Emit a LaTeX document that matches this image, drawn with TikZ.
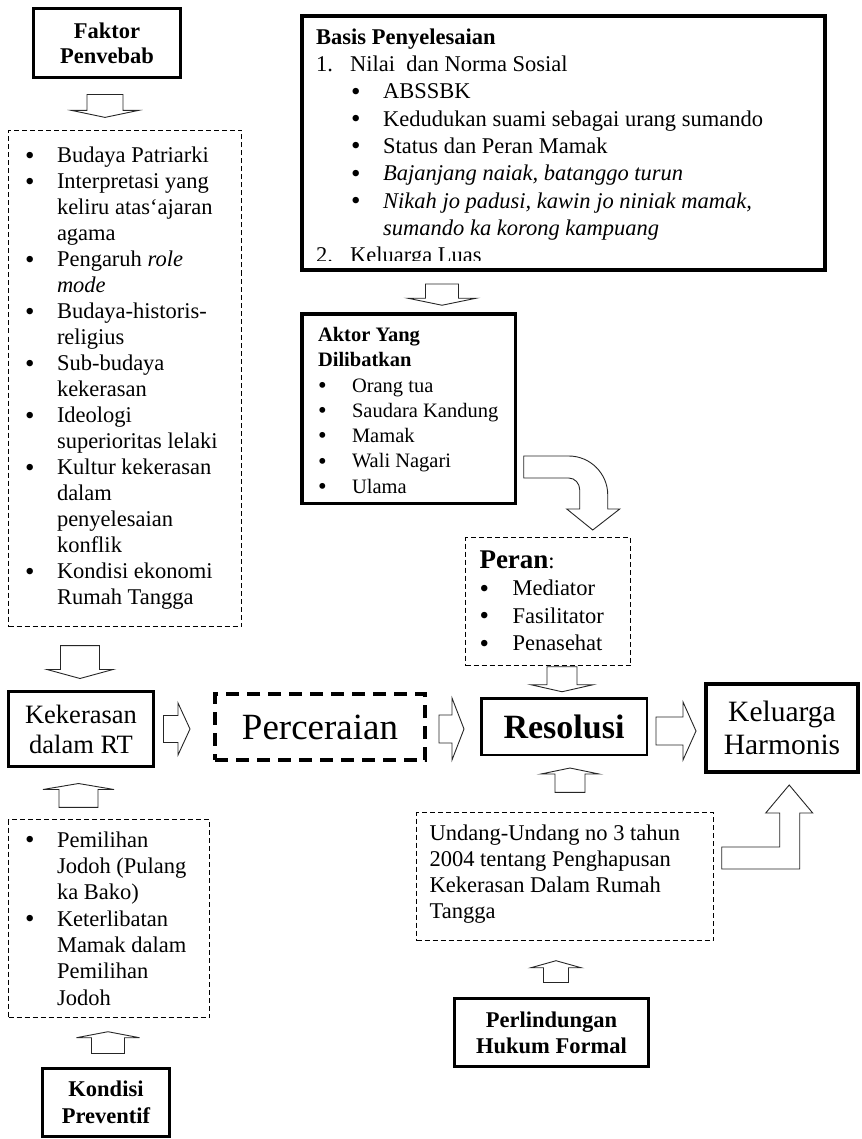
\documentclass[tikz,border=0pt]{standalone}
\usepackage{graphicx}
\usepackage{fontspec}
\setmainfont{Liberation Serif}
\usetikzlibrary{calc}

% bullet and hanging indent for the lists
\newcommand{\dotb}{\raisebox{-0.06em}{\scalebox{1.2}{\textbullet}}}
\newcommand{\itm}[1][32pt]{\makebox[#1][l]{\dotb}}
\newcommand{\indt}[1][32pt]{\hspace*{#1}}

% straight block arrow: tail, tip, half shaft, half head, head length
\newcommand{\blockarrow}[5]{%
  \coordinate (ba-a) at (#1);
  \coordinate (ba-b) at (#2);
  \coordinate (ba-h) at ($(ba-b)!#5!(ba-a)$);
  \draw[blockarr] ($(ba-a)!#3!90:(ba-b)$) -- ($(ba-h)!#3!90:(ba-b)$)
    -- ($(ba-h)!#4!90:(ba-b)$) -- (ba-b) -- ($(ba-h)!#4!-90:(ba-b)$)
    -- ($(ba-h)!#3!-90:(ba-b)$) -- ($(ba-a)!#3!-90:(ba-b)$) -- cycle;
}

\tikzset{
  boldbox/.style={draw, line width=3pt, align=center, inner sep=0pt},
  dashbox/.style={draw, line width=1.2pt, dash pattern=on 5pt off 3pt},
  blockarr/.style={draw=black!85, line width=0.9pt, fill=white, line join=miter},
  listtext/.style={align=flush left, font=\fontsize{22.5}{26}\selectfont},
}

\begin{document}
\begin{tikzpicture}[x=1pt, y=-1pt]

\useasboundingbox (0,0) rectangle (861,1139);

% Left column: causes
\node[boldbox, minimum width=147pt, minimum height=69pt,
  font=\fontsize{22.5}{25}\selectfont\bfseries] (faktor) at (107,43) {Faktor\\Penvebab};

\node[dashbox, listtext, minimum width=233pt, minimum height=496pt,
  text width=200pt, inner xsep=16.5pt] (sebab) at (125,378.5) {%
\itm Budaya Patriarki\\
\itm Interpretasi yang\\
\indt keliru atas`ajaran\\
\indt agama\\
\itm Pengaruh \textit{role}\\
\indt \textit{mode}\\
\itm Budaya-historis-\\
\indt religius\\
\itm Sub-budaya\\
\indt kekerasan\\
\itm Ideologi\\
\indt superioritas~lelaki\\
\itm Kultur kekerasan\\
\indt dalam\\
\indt penyelesaian\\
\indt konflik\\
\itm Kondisi ekonomi\\
\indt Rumah Tangga};

% Main row
\node[boldbox, minimum width=145pt, minimum height=75pt,
  font=\fontsize{26.5}{30}\selectfont] (kekerasan) at (81,729) {Kekerasan\\dalam RT};
\node[draw, line width=4pt, dash pattern=on 13pt off 8pt, minimum width=210pt,
  minimum height=66pt, font=\fontsize{37}{40}\selectfont] (perceraian) at (320,727) {Perceraian};
\node[boldbox, line width=2.5pt, minimum width=165.5pt, minimum height=56.5pt,
  font=\fontsize{34}{36}\selectfont\bfseries] (resolusi) at (564,726.5) {Resolusi};
\node[boldbox, line width=4pt, minimum width=152pt, minimum height=88pt,
  font=\fontsize{29.5}{33}\selectfont] (keluarga) at (782,728) {Keluarga\\Harmonis};

% Left column: prevention
\node[dashbox, listtext, minimum width=201pt, minimum height=198pt,
  text width=168pt, inner xsep=16.5pt, font=\fontsize{22.5}{26.3}\selectfont] (cegah) at (109,918.5) {%
\itm Pemilihan\\
\indt Jodoh (Pulang\\
\indt ka Bako)\\
\itm Keterlibatan\\
\indt Mamak dalam\\
\indt Pemilihan\\
\indt Jodoh};
\node[boldbox, minimum width=127pt, minimum height=68pt,
  font=\fontsize{22.5}{27}\selectfont\bfseries] (kondisi) at (106,1102.5) {Kondisi\\Preventif};

% Basis box, text cut off by the frame
\node[draw, line width=4pt, minimum width=523pt, minimum height=254pt] (basis) at (563.5,143) {};
\begin{scope}
  \clip ($(basis.north west)+(2,2)$) rectangle ($(basis.south east)+(-2,-11)$);
  \node[anchor=north west, inner sep=0pt, align=flush left,
    font=\fontsize{22.5}{27.3}\selectfont] (basistxt) at ($(basis.north west)+(16,14.5)$) {%
\textbf{Basis Penyelesaian}\\
\makebox[34pt][l]{1.}Nilai\ \ dan Norma Sosial\\
\indt[35pt]\itm ABSSBK\\
\indt[35pt]\itm Kedudukan suami sebagai urang sumando\\
\indt[35pt]\itm Status dan Peran Mamak\\
\indt[35pt]\itm \textit{Bajanjang naiak, batanggo turun}\\
\indt[35pt]\itm \textit{Nikah jo padusi, kawin jo niniak mamak,}\\
\indt[67pt]\textit{sumando ka korong kampuang}\\
\makebox[34pt][l]{2.}Keluarga Luas};
\end{scope}

% Actors and roles
\node[boldbox, line width=3.5pt, minimum width=213.5pt, minimum height=189.5pt,
  text width=181pt, inner xsep=16.25pt, align=flush left,
  font=\fontsize{20.5}{25.3}\selectfont] (aktor) at (408.5,408.5) {%
\rule{0pt}{19pt}\textbf{Aktor Yang}\\
\textbf{Dilibatkan}\\
\itm[34pt]Orang tua\\
\itm[34pt]Saudara~Kandung\\
\itm[34pt]Mamak\\
\itm[34pt]Wali Nagari\\
\itm[34pt]Ulama};

\node[dashbox, listtext, minimum width=165pt, minimum height=128pt,
  text width=137pt, inner xsep=14pt, font=\fontsize{22.5}{27.5}\selectfont] (peran) at (548,601.5) {%
{\fontsize{27}{27.5}\selectfont\bfseries Peran}:\\
\itm[33pt]Mediator\\
\itm[33pt]Fasilitator\\
\itm[33pt]Penasehat};

% Formal law
\node[dashbox, minimum width=297pt, minimum height=128pt] (undang) at (565,876.5) {};
\node[anchor=north west, inner sep=0pt, listtext] (undangtxt) at ($(undang.north west)+(13.5,12.5)$) {%
Undang-Undang no 3 tahun\\
2004 tentang Penghapusan\\
Kekerasan Dalam Rumah\\
Tangga};
\node[boldbox, minimum width=194pt, minimum height=68pt,
  font=\fontsize{22.5}{26}\selectfont\bfseries] (lindung) at (551.5,1032.5) {Perlindungan\\Hukum Formal};

% Block arrows between the boxes
\blockarrow{$(faktor.south)+(-2,15.5)$}{$(faktor.south |- sebab.north)+(-2,-12.5)$}{18pt}{33.5pt}{7pt}
\blockarrow{$(sebab.south -| kekerasan.north)+(-1,18.5)$}{$(kekerasan.north)+(-1,-11.5)$}{19.5pt}{33pt}{9pt}
\blockarrow{$(cegah.north -| kekerasan.south)+(-2.5,-11.5)$}{$(kekerasan.south)+(-2.5,15.5)$}{19.5pt}{35.5pt}{6pt}
\blockarrow{$(kondisi.north)+(2,-13.5)$}{$(cegah.south -| kondisi.north)+(2,13.6)$}{16.5pt}{31.5pt}{6pt}
\blockarrow{$(kekerasan.east)+(8.5,0)$}{$(perceraian.west |- kekerasan.east)+(-23,0)$}{13.5pt}{26pt}{12pt}
\blockarrow{$(perceraian.east)+(12,2)$}{$(resolusi.west |- perceraian.east)+(-16,2)$}{14pt}{31pt}{12pt}
\blockarrow{$(resolusi.east)+(8,4.5)$}{$(keluarga.west |- resolusi.east)+(-8,4.5)$}{14pt}{29pt}{13pt}
\blockarrow{$(basis.south -| aktor.north)+(33.5,12)$}{$(aktor.north)+(33.5,-6.75)$}{16.5pt}{34pt}{7pt}
\blockarrow{$(peran.south)+(14,0.6)$}{$(resolusi.north)+(-2,-5.25)$}{15pt}{31pt}{7pt}
\blockarrow{$(undang.north)+(5,-19.5)$}{$(resolusi.south)+(6,12)$}{15pt}{29pt}{6pt}
\blockarrow{$(lindung.north)+(4.5,-14.5)$}{$(undang.south -| lindung.north)+(4.5,19.6)$}{12.5pt}{25pt}{7pt}

% Bent arrow from actors down to roles
\begin{scope}[shift={($(aktor.east)+(6.75,47.5)$)}]
  \draw[blockarr] (0,0) -- (45,0) .. controls (66.5,0) and (84,17.5) .. (84,39)
    -- (84,53) -- (96,53) -- (69,74) -- (43,53) -- (56,53) -- (56,34)
    .. controls (56,27.4) and (51.1,22) .. (45,22) -- (0,22) -- cycle;
\end{scope}

% L-shaped arrow from the law up to the harmonious family
\begin{scope}[shift={($(undang.east)+(7.6,-29.5)$)}]
  \draw[blockarr] (0,0) -- (58,0) -- (58,-34) -- (44,-34) -- (67.5,-62)
    -- (91,-34) -- (78,-34) -- (78,22) -- (0,22) -- cycle;
\end{scope}

\end{tikzpicture}
\end{document}
